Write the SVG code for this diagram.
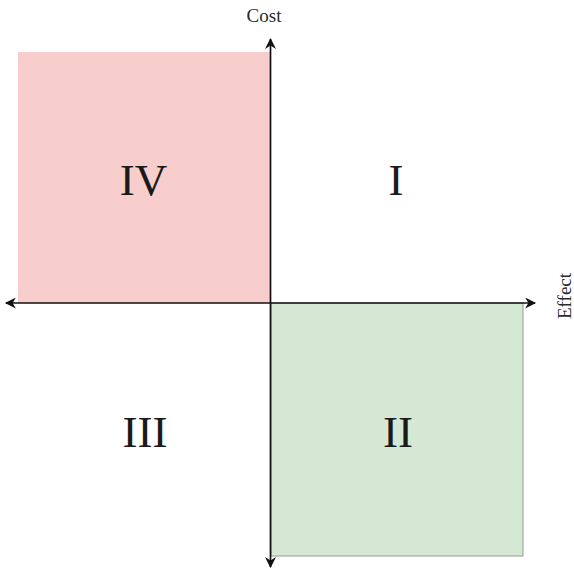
<svg xmlns="http://www.w3.org/2000/svg" width="574" height="573" viewBox="0 0 574 573">
<style>
.num{font-family:"Liberation Serif","Times New Roman",serif;font-size:45px;fill:#1a1a1a;text-anchor:middle}
.lbl{font-family:"Liberation Serif","Times New Roman",serif;font-size:19px;fill:#2a2a2a;text-anchor:middle}
.axis{stroke:#111;stroke-width:1.7;fill:none}
</style>
<defs>
<marker id="arr" viewBox="0 0 10 10" refX="9" refY="5" markerWidth="12" markerHeight="11" markerUnits="userSpaceOnUse" orient="auto-start-reverse">
<path d="M0,0 L10,5 L0,10 L3,5 Z" fill="#111"/>
</marker>
</defs>
<rect width="574" height="573" fill="#ffffff"/>
<g id="q4"><rect x="18" y="52" width="252" height="251" fill="#f8cecc"/><text class="num" x="143.5" y="195">IV</text></g>
<g id="q2"><rect x="271" y="303" width="252" height="253" fill="#d5e8d4" stroke="#9fae97" stroke-width="1.2"/><text class="num" x="398" y="447">II</text></g>
<g id="q1"><text class="num" x="396" y="195">I</text></g>
<g id="q3"><text class="num" x="145" y="447">III</text></g>
<g id="connectors">
<line class="axis" x1="270.5" y1="567" x2="270.5" y2="39" marker-end="url(#arr)" marker-start="url(#arr)"/>
<line class="axis" x1="6" y1="303" x2="535" y2="303" marker-end="url(#arr)" marker-start="url(#arr)"/>
</g>
<g id="cost"><text class="lbl" x="264" y="22">Cost</text></g>
<g id="effect"><text class="lbl" transform="translate(571,296) rotate(-90)">Effect</text></g>
</svg>
